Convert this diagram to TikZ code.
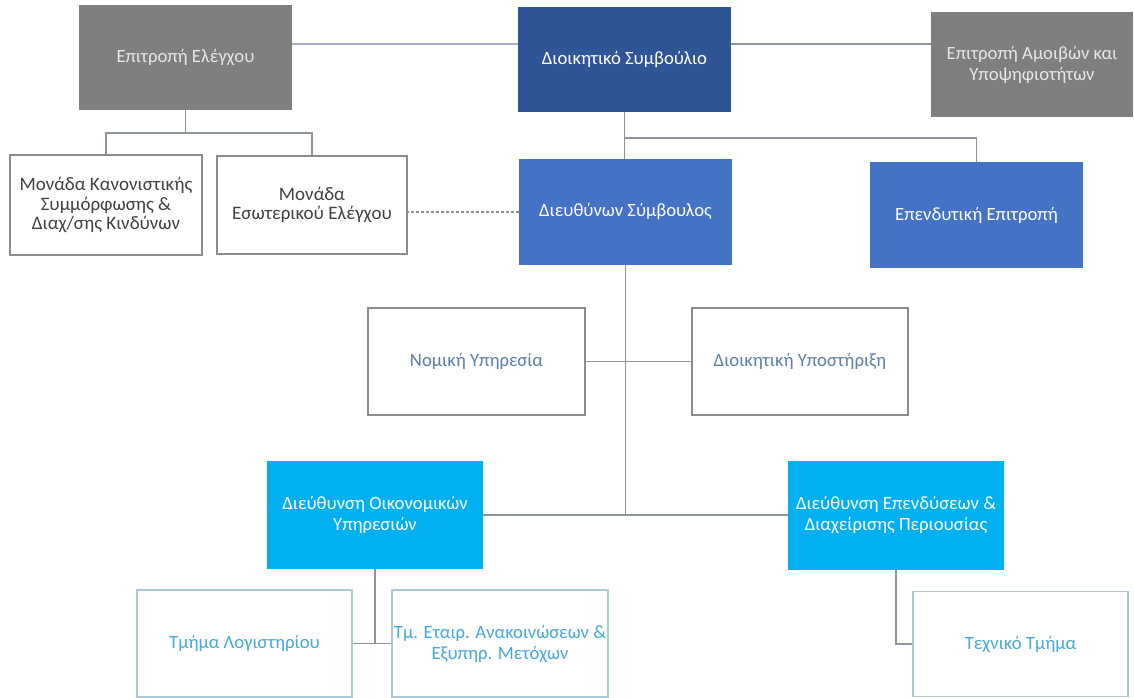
\documentclass[tikz,border=0pt]{standalone}
\usepackage{fontspec}
\setmainfont{Carlito}
\definecolor{cgray}{HTML}{7F7F7F}
\definecolor{cgtext}{HTML}{E6E6E6}
\definecolor{cdark}{HTML}{2F5597}
\definecolor{cmid}{HTML}{4472C4}
\definecolor{clight}{HTML}{00B0F0}
\definecolor{cline}{HTML}{8E949C}
\definecolor{ctopline}{HTML}{9FB0CC}
\definecolor{cwbord}{HTML}{8C8C8C}
\definecolor{cwtext}{HTML}{404040}
\definecolor{cmtext}{HTML}{5B7FA6}
\definecolor{cbbord}{HTML}{A9C9D8}
\definecolor{cbtext}{HTML}{45A8D8}
\tikzset{
  sz/.style 2 args={minimum width=#1pt, minimum height=#2pt},
  box/.style={rectangle, inner sep=2pt, align=center, font=\fontsize{18.7}{21}\selectfont},
  graybox/.style={box, fill=cgray, text=cgtext},
  darkbox/.style={box, fill=cdark, text=white},
  midbox/.style={box, fill=cmid, text=white},
  lightbox/.style={box, fill=clight, text=white},
  topwhite/.style={box, draw=cwbord, line width=1.6pt, text=cwtext, font=\fontsize{19}{19.5}\selectfont},
  midwhite/.style={box, draw=cwbord, line width=1.6pt, text=cmtext},
  botwhite/.style={box, draw=cbbord, line width=1.6pt, text=cbtext},
  conn/.style={draw=cline, line width=1.6pt},
}
\begin{document}
\begin{tikzpicture}[x=1pt,y=-1pt]
\useasboundingbox (0,0) rectangle (1134,698);
% top row
\node[graybox, sz={213}{105}] (elen) at (185.5,57.5) {Επιτροπή Ελέγχου};
\node[darkbox, sz={213}{105}] (ds) at (624.5,59.5) {Διοικητικό Συμβούλιο};
\node[graybox, sz={202}{105}] (amoib) at (1032,64.5) {Επιτροπή Αμοιβών και\\Υποψηφιοτήτων};
% second row
\node[topwhite, sz={192}{100}] (kanon) at (106,205) {Μονάδα Κανονιστικής\\Συμμόρφωσης \&\\Διαχ/σης Κινδύνων};
\node[topwhite, sz={190}{98}] (esot) at (312,205) {Μονάδα\\Εσωτερικού Ελέγχου};
\node[midbox, sz={213}{106}] (ceo) at (625.5,212) {Διευθύνων Σύμβουλος};
\node[midbox, sz={213}{106}] (invest) at (976.5,215) {Επενδυτική Επιτροπή};
% third row
\node[midwhite, sz={217}{107}] (nomiki) at (476.5,361.5) {Νομική Υπηρεσία};
\node[midwhite, sz={216}{107}] (dioik) at (800,361.5) {Διοικητική Υποστήριξη};
% fourth row
\node[lightbox, sz={216}{108}] (oikon) at (375,515) {Διεύθυνση Οικονομικών\\Υπηρεσιών};
\node[lightbox, sz={216}{109}] (epend) at (896,515) {Διεύθυνση Επενδύσεων \&\\Διαχείρισης Περιουσίας};
% bottom row
\node[botwhite, sz={215}{107}] (logist) at (244.5,643.5) {Τμήμα Λογιστηρίου};
\node[botwhite, sz={216}{107}] (etair) at (500,643.5) {Τμ. Εταιρ. Ανακοινώσεων \&\\Εξυπηρ. Μετόχων};
\node[botwhite, sz={215}{105}] (techn) at (1020.5,644) {Τεχνικό Τμήμα};
% helper coordinates
\coordinate (topy) at (0,44);
\coordinate (bra) at (0,138);
\coordinate (brb) at (0,133);
% connectors
\draw[draw=ctopline, line width=1.6pt] (elen.east |- topy) -- (ds.west |- topy);
\draw[conn] (ds.east |- topy) -- (amoib.west |- topy);
\draw[conn] (ds.south) -- (ds.south |- ceo.north);
\draw[conn] (ds.south |- bra) -| (invest.north);
\draw[conn] (elen.south) -- (elen.south |- brb);
\draw[conn] (kanon.north) -- (kanon.north |- brb) -- (esot.north |- brb) -- (esot.north);
\draw[conn, dashed, dash pattern=on 3pt off 2pt, line width=1.2pt] (ceo.west) -- (ceo.west -| esot.east);
\draw[conn] (ceo.south) -- (ceo.south |- oikon.east);
\draw[conn] (nomiki.east) -- (dioik.west);
\draw[conn] (oikon.east) -- (epend.west);
\draw[conn] (oikon.south) -- (oikon.south |- logist.east);
\draw[conn] (logist.east) -- (etair.west);
\draw[conn] (epend.south) |- (techn.west);
\end{tikzpicture}
\end{document}
